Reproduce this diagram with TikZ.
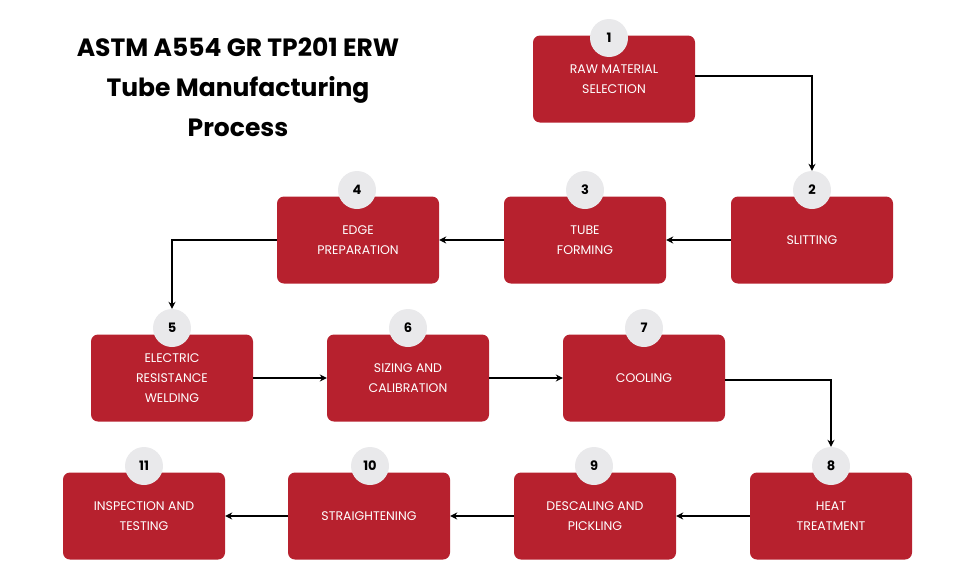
\documentclass[tikz,border=0pt]{standalone}
\usepackage{fontspec}
\setmainfont{Poppins}
\usetikzlibrary{arrows.meta}
\definecolor{boxred}{HTML}{B7212E}
\definecolor{circ}{HTML}{E9E9EB}
\begin{document}
\begin{tikzpicture}[x=1pt,y=-1pt,
  box/.style={fill=boxred,rounded corners=7pt,minimum width=162pt,minimum height=87pt,inner sep=0pt,text=white,align=center,font=\fontsize{12.5}{20}\selectfont},
  num/.style={circle,fill=circ,minimum size=38pt,inner sep=0pt,font=\bfseries\fontsize{13}{13}\selectfont},
  arr/.style={-{Stealth[length=7pt,width=7pt]},line width=1.5pt,black}]
\useasboundingbox (0,0) rectangle (980,573);
\node[font=\bfseries\fontsize{25}{40}\selectfont,align=center] (title) at (238,87) {ASTM A554 GR TP201 ERW\\Tube Manufacturing\\Process};
\node[box] (b1) at (614,79) {RAW MATERIAL\\SELECTION};
\node[box] (b2) at (812,240) {SLITTING};
\node[box] (b3) at (585,240) {TUBE\\FORMING};
\node[box] (b4) at (358,240) {EDGE\\PREPARATION};
\node[box] (b5) at (172,378) {ELECTRIC\\RESISTANCE\\WELDING};
\node[box] (b6) at (408,378) {SIZING AND\\CALIBRATION};
\node[box] (b7) at (644,378) {COOLING};
\node[box] (b8) at (831,516) {HEAT\\TREATMENT};
\node[box] (b9) at (595,516) {DESCALING AND\\PICKLING};
\node[box] (b10) at (369,516) {STRAIGHTENING};
\node[box] (b11) at (144,516) {INSPECTION AND\\TESTING};
\node[num] (n1) at (609,38) {1};
\node[num] (n2) at (812,190) {2};
\node[num] (n3) at (585,190) {3};
\node[num] (n4) at (357,190) {4};
\node[num] (n5) at (172,328) {5};
\node[num] (n6) at (408,328) {6};
\node[num] (n7) at (644,328) {7};
\node[num] (n8) at (831,466) {8};
\node[num] (n9) at (594,466) {9};
\node[num] (n10) at (370,466) {10};
\node[num] (n11) at (144,466) {11};
\draw[arr] (b1.east) ++(0,-3) -| (n2.north);
\draw[arr] (b2.west) -- (b3.east);
\draw[arr] (b3.west) -- (b4.east);
\draw[arr] (b4.west) -| (n5.north);
\draw[arr] (b5.east) -- (b6.west);
\draw[arr] (b6.west -| b6.east) -- (b7.west);
\draw[arr] (b7.east) ++(0,2) -| (n8.north);
\draw[arr] (b8.west) -- (b9.east);
\draw[arr] (b9.west) -- (b10.east);
\draw[arr] (b10.west) -- (b11.east);
\end{tikzpicture}
\end{document}
